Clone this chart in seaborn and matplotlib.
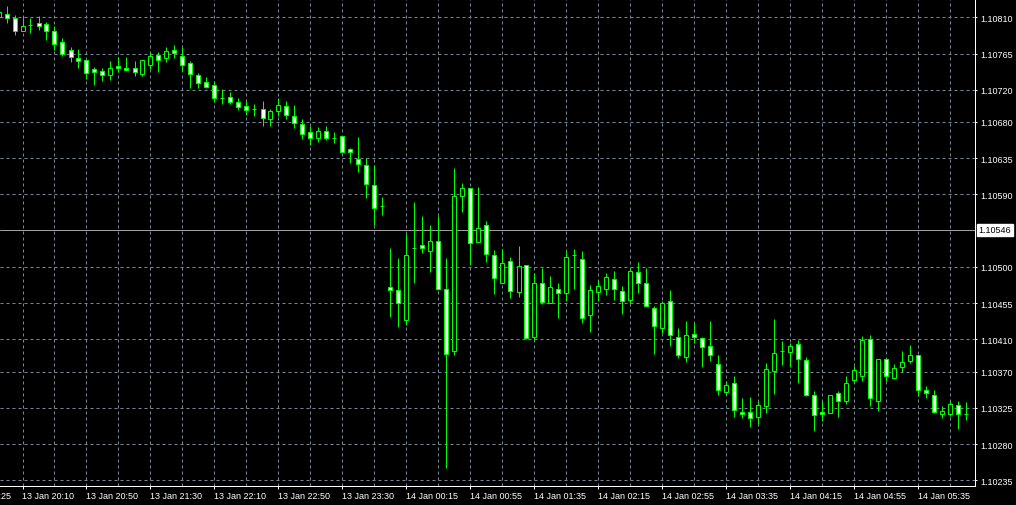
import numpy as np
import pandas as pd
import matplotlib
matplotlib.use("Agg")
import matplotlib.pyplot as plt
import seaborn as sns

# 5 minute candles, prices in points (x 1e-5). First candle is cut at the left edge.
opens = [110810, 110814, 110809, 110793, 110800, 110803, 110802, 110793, 110779, 110769,
         110759, 110757, 110746, 110743, 110738, 110749, 110747, 110747, 110740, 110751,
         110763, 110759, 110769, 110762, 110753, 110738, 110730, 110726, 110710, 110711,
         110705, 110700, 110696, 110696, 110684, 110694, 110700, 110687, 110677, 110667,
         110660, 110669, 110660, 110662, 110646, 110634, 110627, 110602, 110576, 110475,
         110471, 110434, 110523, 110527, 110520, 110532, 110473, 110396, 110588, 110598,
         110531, 110552, 110515, 110480, 110507, 110469, 110502, 110413, 110480, 110455,
         110473, 110468, 110515, 110510, 110440, 110469, 110473, 110485, 110470, 110459,
         110494, 110480, 110449, 110424, 110458, 110413, 110388, 110417, 110412, 110402,
         110379, 110345, 110356, 110320, 110320, 110314, 110327, 110371, 110396, 110394,
         110404, 110384, 110341, 110320, 110319, 110343, 110333, 110360, 110364, 110410,
         110333, 110386, 110362, 110376, 110383, 110391, 110347, 110341, 110317, 110317,
         110328, 110317]
highs = [110819, 110824, 110813, 110812, 110809, 110812, 110804, 110799, 110784, 110773,
         110771, 110757, 110748, 110747, 110756, 110761, 110761, 110756, 110757, 110767,
         110767, 110773, 110776, 110773, 110756, 110741, 110736, 110731, 110721, 110717,
         110710, 110706, 110702, 110706, 110696, 110710, 110706, 110701, 110684, 110675,
         110674, 110675, 110667, 110662, 110648, 110661, 110635, 110627, 110587, 110523,
         110511, 110541, 110581, 110563, 110552, 110563, 110511, 110623, 110604, 110598,
         110599, 110557, 110521, 110522, 110512, 110526, 110502, 110492, 110499, 110489,
         110480, 110520, 110522, 110520, 110477, 110484, 110492, 110495, 110476, 110499,
         110506, 110499, 110451, 110458, 110471, 110424, 110433, 110430, 110413, 110433,
         110391, 110358, 110364, 110337, 110338, 110333, 110381, 110435, 110408, 110405,
         110409, 110388, 110346, 110333, 110341, 110346, 110364, 110377, 110414, 110415,
         110386, 110387, 110379, 110396, 110403, 110391, 110352, 110347, 110327, 110333,
         110333, 110332]
lows = [110809, 110803, 110788, 110793, 110790, 110794, 110782, 110769, 110762, 110754,
        110747, 110733, 110726, 110731, 110732, 110742, 110743, 110737, 110737, 110746,
        110742, 110754, 110759, 110743, 110722, 110722, 110722, 110705, 110702, 110702,
        110695, 110689, 110687, 110675, 110675, 110687, 110684, 110672, 110659, 110651,
        110655, 110658, 110654, 110643, 110629, 110618, 110586, 110552, 110564, 110438,
        110425, 110428, 110480, 110517, 110494, 110471, 110250, 110391, 110568, 110502,
        110531, 110506, 110466, 110480, 110461, 110463, 110410, 110409, 110454, 110455,
        110436, 110458, 110473, 110430, 110419, 110458, 110465, 110459, 110441, 110455,
        110468, 110451, 110392, 110418, 110402, 110387, 110382, 110405, 110376, 110383,
        110341, 110342, 110314, 110312, 110301, 110305, 110319, 110342, 110378, 110376,
        110356, 110340, 110296, 110309, 110319, 110314, 110330, 110357, 110358, 110327,
        110321, 110358, 110361, 110369, 110381, 110340, 110337, 110319, 110312, 110315,
        110299, 110310]
closes = [110817, 110809, 110793, 110799, 110801, 110799, 110793, 110777, 110764, 110761,
          110756, 110741, 110742, 110738, 110747, 110747, 110745, 110742, 110757, 110762,
          110757, 110768, 110766, 110751, 110740, 110728, 110723, 110710, 110710, 110705,
          110699, 110695, 110696, 110685, 110694, 110701, 110689, 110679, 110665, 110660,
          110669, 110660, 110660, 110643, 110643, 110628, 110603, 110573, 110576, 110471,
          110455, 110515, 110523, 110523, 110532, 110473, 110392, 110588, 110598, 110530,
          110548, 110516, 110486, 110505, 110470, 110501, 110412, 110480, 110456, 110475,
          110468, 110512, 110515, 110436, 110471, 110476, 110487, 110473, 110458, 110495,
          110480, 110451, 110427, 110455, 110415, 110391, 110415, 110413, 110400, 110391,
          110347, 110353, 110322, 110317, 110312, 110328, 110373, 110393, 110396, 110402,
          110386, 110341, 110316, 110317, 110341, 110333, 110356, 110372, 110409, 110337,
          110386, 110364, 110374, 110382, 110391, 110347, 110343, 110320, 110321, 110330,
          110317, 110317]

time_labels = ["13 Jan 19:25", "13 Jan 20:10", "13 Jan 20:50", "13 Jan 21:30", "13 Jan 22:10",
               "13 Jan 22:50", "13 Jan 23:30", "14 Jan 00:15", "14 Jan 00:55", "14 Jan 01:35",
               "14 Jan 02:15", "14 Jan 02:55", "14 Jan 03:35", "14 Jan 04:15", "14 Jan 04:55",
               "14 Jan 05:35"]
price_ticks = [1.10810, 1.10765, 1.10720, 1.10680, 1.10635, 1.10590, 1.10500,
               1.10455, 1.10410, 1.10370, 1.10325, 1.10280, 1.10235]
bid_price = 1.10546

df = pd.DataFrame({"open": opens, "high": highs, "low": lows, "close": closes}) / 1e5
df["x"] = np.arange(len(df)) - 1

sns.set_theme(style="dark", rc={
    "figure.facecolor": "black",
    "axes.facecolor": "black",
    "axes.edgecolor": "white",
    "text.color": "white",
    "xtick.color": "white",
    "ytick.color": "white",
})
plt.rcParams["font.family"] = ["Liberation Sans", "DejaVu Sans"]

PX = 0.72  # one pixel in points
lime = "#00ff00"
grid_col = "#778899"
fs = 6.5

fig = plt.figure(figsize=(10.16, 5.06), dpi=100)
ax = fig.add_axes([0, 19.5 / 506, 974.5 / 1016, 486.5 / 506])

# candles: wicks then bodies (bear = white, bull = black)
x = df["x"].to_numpy()
ax.vlines(x, df["low"], df["high"], color=lime, lw=PX, zorder=3)
body_lo = df[["open", "close"]].min(axis=1)
body_hi = df[["open", "close"]].max(axis=1)
fills = np.where(df["close"] < df["open"], "white", "black")
ax.bar(x, body_hi - body_lo, bottom=body_lo, width=0.5, color=fills,
       edgecolor=lime, linewidth=PX, zorder=4)

ax.axhline(bid_price, color="#a0a0a0", lw=PX, zorder=2)

ax.set_xlim(-0.8125, 121.0)
ax.set_ylim(1.102285, 1.108327)

ax.set_xticks(np.arange(2, 121, 4), minor=True)
ax.set_xticks(np.arange(2, 121, 8), labels=time_labels[1:], ha="left")
ax.yaxis.tick_right()
ax.set_yticks(price_ticks, labels=[f"{p:.5f}" for p in price_ticks])

dash = (0, (3, 3))
ax.grid(True, which="both", axis="x", color=grid_col, lw=PX, linestyle=dash, zorder=1)
ax.grid(True, which="major", axis="y", color=grid_col, lw=PX, linestyle=dash, zorder=1)
ax.set_axisbelow(True)

ax.tick_params(axis="x", which="major", direction="out", length=3 * PX, width=PX,
               pad=2, labelsize=fs, labelcolor="white", bottom=True)
ax.tick_params(axis="x", which="minor", length=0)
ax.tick_params(axis="y", direction="out", length=2 * PX, width=PX, pad=3,
               labelsize=fs, labelcolor="white", right=True, left=False)

for side in ["left", "top"]:
    ax.spines[side].set_visible(False)
for side in ["right", "bottom"]:
    ax.spines[side].set_color("white")
    ax.spines[side].set_linewidth(PX)

# first time label, mostly off the left edge
ax.annotate(time_labels[0], xy=(-6, 0), xycoords=("data", "axes fraction"),
            xytext=(0, -5.8), textcoords="offset pixels", ha="left", va="top",
            fontsize=fs, color="white", annotation_clip=False)

# bid price box on the price scale
ax.annotate(f"{bid_price:.5f}", xy=(1, bid_price), xycoords=("axes fraction", "data"),
            xytext=(4, 0), textcoords="offset pixels", ha="left", va="center",
            fontsize=fs, color="black", annotation_clip=False,
            bbox=dict(boxstyle="square,pad=0.2", fc="white", ec="white"))

fig.savefig("out.png", dpi=100, facecolor="black")
